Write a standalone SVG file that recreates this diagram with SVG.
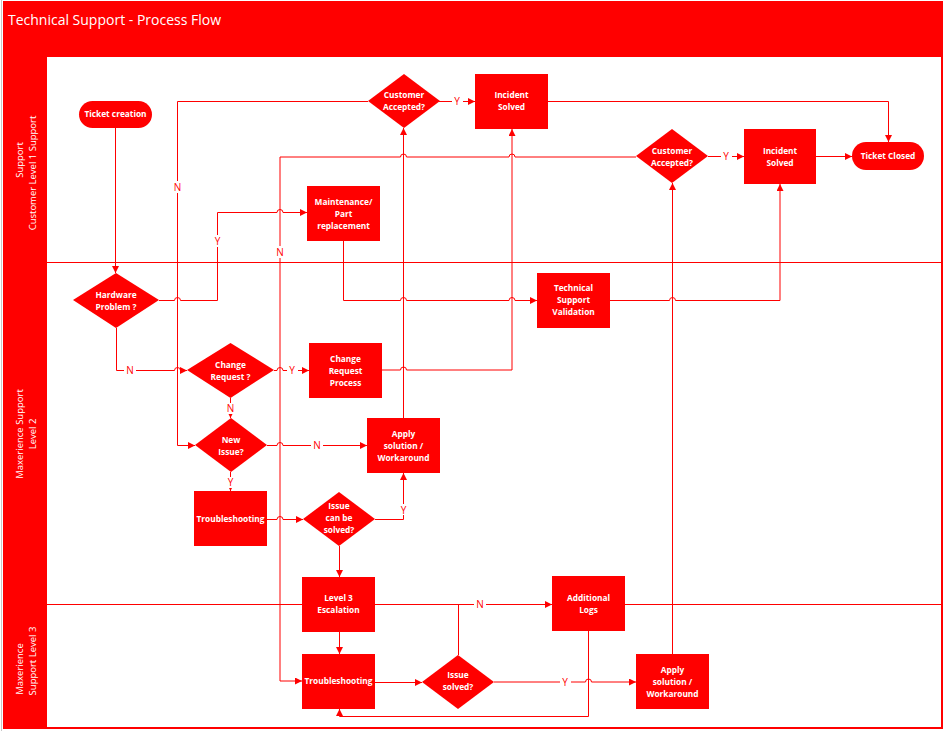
<svg xmlns="http://www.w3.org/2000/svg" width="944" height="731" viewBox="0 0 944 731">
<defs>
<style>
.title{fill:#fff;font-family:"Open Sans","Noto Sans",sans-serif;font-size:14.5px}
.lane{fill:#fff;font-family:"Open Sans","Noto Sans",sans-serif;font-size:9.5px;text-anchor:middle}
.shape{fill:#FF0000}
.nt{fill:#fff;font-family:"Open Sans","Noto Sans",sans-serif;font-size:8.3px;font-weight:bold;text-anchor:middle}
.conn path{fill:none;stroke:#FF0000;stroke-width:1}
.lbl{fill:#FF0000;font-family:"Open Sans","Noto Sans",sans-serif;font-size:10px;text-anchor:middle}
.lb{fill:#fff}
</style>
<marker id="ah" markerUnits="userSpaceOnUse" markerWidth="8" markerHeight="8" refX="7" refY="3.5" orient="auto">
<path d="M0,0 L7,3.5 L0,7 z" fill="#FF0000"/>
</marker>
</defs>
<rect x="0" y="0" width="944" height="731" fill="#fff"/>
<line x1="1.5" y1="0" x2="1.5" y2="731" stroke="#c8c8c8" stroke-width="1"/>
<g id="frame">
<rect x="3" y="1" width="940" height="728" fill="#FF0000"/>
<rect x="47" y="57" width="894" height="670" fill="#fff"/>
<text class="title" x="8" y="25" textLength="213" lengthAdjust="spacingAndGlyphs">Technical Support - Process Flow</text>
</g>
<g id="lanes">
<path d="M47,262.5 H941 M47,604.5 H941" stroke="#FF0000" stroke-width="1" fill="none"/>
<text class="lane" transform="translate(23,160) rotate(-90)">Support</text>
<text class="lane" transform="translate(36,173) rotate(-90)">Customer Level 1 Support</text>
<text class="lane" transform="translate(23,434) rotate(-90)">Maxerience Support</text>
<text class="lane" transform="translate(36,434) rotate(-90)">Level 2</text>
<text class="lane" transform="translate(23,669) rotate(-90)">Maxerience</text>
<text class="lane" transform="translate(36,661) rotate(-90)">Support Level 3</text>
</g>
<g id="connectors" class="conn">
<path d="M115.5,128 V273" marker-end="url(#ah)"/>
<path d="M159,300.5 H174.5 A3,3 0 0 1 180.5,300.5 H217.5 V212.5 H277 A3,3 0 0 1 283,212.5 H307" marker-end="url(#ah)"/>
<path d="M116.5,328 V370.5 H174.5 A3,3 0 0 1 180.5,370.5 H187" marker-end="url(#ah)"/>
<path d="M274,370.5 H277 A3,3 0 0 1 283,370.5 H309" marker-end="url(#ah)"/>
<path d="M230.5,398 V418" marker-end="url(#ah)"/>
<path d="M267,445.5 H277 A3,3 0 0 1 283,445.5 H367" marker-end="url(#ah)"/>
<path d="M230.5,472 V491" marker-end="url(#ah)"/>
<path d="M267,519.5 H277 A3,3 0 0 1 283,519.5 H303" marker-end="url(#ah)"/>
<path d="M375,519.5 H403.5 V473" marker-end="url(#ah)"/>
<path d="M339.5,546 V577" marker-end="url(#ah)"/>
<path d="M339.5,632 V654" marker-end="url(#ah)"/>
<path d="M375,682.5 H422" marker-end="url(#ah)"/>
<path d="M458.5,655 V604.5 H552" marker-end="url(#ah)"/>
<path d="M494,682 H585.5 A3,3 0 0 1 591.5,682 H636" marker-end="url(#ah)"/>
<path d="M588.5,631 V716.5 H339.5 V709" marker-end="url(#ah)"/>
<path d="M672.5,654 V183" marker-end="url(#ah)"/>
<path d="M708,156.5 H744" marker-end="url(#ah)"/>
<path d="M816,156.5 H852" marker-end="url(#ah)"/>
<path d="M636,157 H515 A3,3 0 0 0 509,157 H406.5 A3,3 0 0 0 400.5,157 H280 V681 H302" marker-end="url(#ah)"/>
<path d="M403.5,418 V128" marker-end="url(#ah)"/>
<path d="M439,101.5 H475" marker-end="url(#ah)"/>
<path d="M548,101.5 H888.5 V142" marker-end="url(#ah)"/>
<path d="M368,101.5 H177.5 V445.5 H195" marker-end="url(#ah)"/>
<path d="M343.5,241 V300.5 H400.5 A3,3 0 0 1 406.5,300.5 H509 A3,3 0 0 1 515,300.5 H537" marker-end="url(#ah)"/>
<path d="M610,300.5 H669.5 A3,3 0 0 1 675.5,300.5 H780 V184" marker-end="url(#ah)"/>
<path d="M382,370 H400.5 A3,3 0 0 1 406.5,370 H512 V129" marker-end="url(#ah)"/>
<g id="labels">
<rect class="lb" x="212" y="235" width="11" height="12"/><text class="lbl" x="217.5" y="245">Y</text>
<rect class="lb" x="124" y="365" width="12" height="11"/><text class="lbl" x="130" y="374">N</text>
<rect class="lb" x="287" y="365" width="11" height="11"/><text class="lbl" x="292" y="374">Y</text>
<rect class="lb" x="225" y="403" width="11" height="11"/><text class="lbl" x="230.5" y="412">N</text>
<rect class="lb" x="311" y="440" width="12" height="11"/><text class="lbl" x="317" y="449">N</text>
<rect class="lb" x="225" y="477" width="11" height="11"/><text class="lbl" x="230.5" y="486">Y</text>
<rect class="lb" x="398" y="504" width="11" height="11"/><text class="lbl" x="403.5" y="514">Y</text>
<rect class="lb" x="474" y="599" width="12" height="11"/><text class="lbl" x="480" y="608">N</text>
<rect class="lb" x="560" y="677" width="11" height="11"/><text class="lbl" x="565" y="686">Y</text>
<rect class="lb" x="721" y="151" width="11" height="11"/><text class="lbl" x="726" y="160">Y</text>
<rect class="lb" x="274" y="246" width="12" height="12"/><text class="lbl" x="280" y="256">N</text>
<rect class="lb" x="452" y="96" width="11" height="11"/><text class="lbl" x="457" y="105">Y</text>
<rect class="lb" x="172" y="181" width="12" height="12"/><text class="lbl" x="177.5" y="191">N</text>
</g>
</g>
<g id="n-ticket-creation"><rect class="shape" x="79" y="101" width="73" height="27" rx="13.5"/><text class="nt" x="115.5" y="117">Ticket creation</text></g>
<g id="n-customer-accepted-1"><path class="shape" d="M404,74 L440,101 L404,128 L368,101 Z"/><text class="nt" x="404" y="98">Customer</text><text class="nt" x="404" y="110">Accepted?</text></g>
<g id="n-incident-solved-1"><rect class="shape" x="475" y="74" width="73" height="55"/><text class="nt" x="511.5" y="98">Incident</text><text class="nt" x="511.5" y="110">Solved</text></g>
<g id="n-maintenance"><rect class="shape" x="307" y="186" width="73" height="55"/><text class="nt" x="343.5" y="205">Maintenance/</text><text class="nt" x="343.5" y="217">Part</text><text class="nt" x="343.5" y="229">replacement</text></g>
<g id="n-customer-accepted-2"><path class="shape" d="M672,129 L708,156 L672,183 L636,156 Z"/><text class="nt" x="672" y="154">Customer</text><text class="nt" x="672" y="166">Accepted?</text></g>
<g id="n-incident-solved-2"><rect class="shape" x="744" y="129" width="72" height="55"/><text class="nt" x="780" y="154">Incident</text><text class="nt" x="780" y="166">Solved</text></g>
<g id="n-ticket-closed"><rect class="shape" x="852" y="142" width="72" height="28" rx="14"/><text class="nt" x="888" y="159">Ticket Closed</text></g>
<g id="n-hardware-problem"><path class="shape" d="M116,273 L159,300 L116,328 L73,300 Z"/><text class="nt" x="116" y="298">Hardware</text><text class="nt" x="116" y="310">Problem ?</text></g>
<g id="n-change-request"><path class="shape" d="M230.5,343 L274,370 L230.5,398 L187,370 Z"/><text class="nt" x="230.5" y="368">Change</text><text class="nt" x="230.5" y="380">Request ?</text></g>
<g id="n-new-issue"><path class="shape" d="M231,418 L267,445 L231,472 L195,445 Z"/><text class="nt" x="231" y="443">New</text><text class="nt" x="231" y="455">Issue?</text></g>
<g id="n-change-request-process"><rect class="shape" x="309" y="343" width="73" height="55"/><text class="nt" x="345.5" y="362">Change</text><text class="nt" x="345.5" y="374">Request</text><text class="nt" x="345.5" y="386">Process</text></g>
<g id="n-tech-support-validation"><rect class="shape" x="537" y="273" width="73" height="55"/><text class="nt" x="573.5" y="291">Technical</text><text class="nt" x="573.5" y="303">Support</text><text class="nt" x="573.5" y="315">Validation</text></g>
<g id="n-apply-solution-2"><rect class="shape" x="367" y="418" width="73" height="55"/><text class="nt" x="403.5" y="437">Apply</text><text class="nt" x="403.5" y="449">solution /</text><text class="nt" x="403.5" y="461">Workaround</text></g>
<g id="n-troubleshooting-2"><rect class="shape" x="194" y="491" width="73" height="55"/><text class="nt" x="230.5" y="522">Troubleshooting</text></g>
<g id="n-issue-can-be-solved"><path class="shape" d="M339,492 L375,519 L339,546 L303,519 Z"/><text class="nt" x="339" y="509">Issue</text><text class="nt" x="339" y="521">can be</text><text class="nt" x="339" y="533">solved?</text></g>
<g id="n-level3-escalation"><rect class="shape" x="302" y="577" width="73" height="55"/><text class="nt" x="338.5" y="601">Level 3</text><text class="nt" x="338.5" y="613">Escalation</text></g>
<g id="n-troubleshooting-3"><rect class="shape" x="302" y="654" width="73" height="55"/><text class="nt" x="338.5" y="684">Troubleshooting</text></g>
<g id="n-issue-solved"><path class="shape" d="M458,655 L494,682 L458,709 L422,682 Z"/><text class="nt" x="458" y="678">Issue</text><text class="nt" x="458" y="690">solved?</text></g>
<g id="n-additional-logs"><rect class="shape" x="552" y="576" width="73" height="55"/><text class="nt" x="588.5" y="601">Additional</text><text class="nt" x="588.5" y="613">Logs</text></g>
<g id="n-apply-solution-3"><rect class="shape" x="636" y="654" width="73" height="55"/><text class="nt" x="672.5" y="673">Apply</text><text class="nt" x="672.5" y="685">solution /</text><text class="nt" x="672.5" y="697">Workaround</text></g>
</svg>
